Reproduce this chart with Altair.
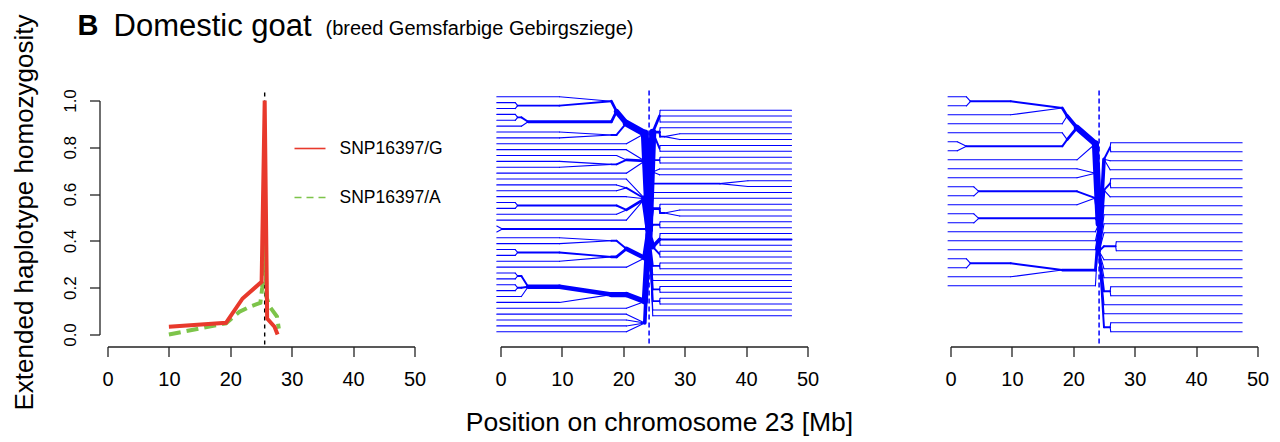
import altair as alt
import pandas as pd

# ---------------- data: panel 1 (EHH curves) ----------------
ehh_g_pos = [10.0, 19.3, 22.0, 25.1, 25.6, 26.0, 27.2, 27.7]
ehh_g_val = [0.033, 0.05, 0.154, 0.225, 1.0, 0.068, 0.033, 0.0]
ehh_a_pos = [10.0, 19.3, 21.5, 23.1, 24.9, 25.2, 25.6, 25.9, 26.4, 27.6, 27.9]
ehh_a_val = [0.0, 0.048, 0.097, 0.118, 0.135, 0.2, 0.45, 0.16, 0.12, 0.077, 0.025]
allele_labels = ["SNP16397/G", "SNP16397/A"]
ehh_core = 25.6
x_ticks = [0, 10, 20, 30, 40, 50]
y_ticks = [0.0, 0.2, 0.4, 0.6, 0.8, 1.0]

title_letter = "B"
title_main = "Domestic goat"
title_sub = "(breed Gemsfarbige Gebirgsziege)"
y_title = "Extended haplotype homozygosity"
x_title = "Position on chromosome 23 [Mb]"

# ---------------- data: bifurcation diagrams ----------------
# node = [split position (Mb), child, child, ...]; leaf = number of haplotypes
bif_core = 24.2

g_left_markers = [24.2, 23.5, 20.5, 18.9, 18.05, 9.6, 4.5, 3.4, 2.8, 2.4, 0.3, -0.6]
g_left_tree = [24.2,
    [23.5, [20.5, [18.9, [18.05, 1, [2.8, 1, 1]], [4.5, [2.8, 1, 1], 1]], [18.05, 1, 1]], 1],
    [23.5, 1, [20.5, 1, [18.05, 1, 1]], 1],
    [23.5, 1, [20.5, 1, 1], 1, [20.5, [2.8, 1, 1], 1], 1],
    [0.3, 1, 1],
    [23.5, [20.5, [18.05, 1, 1], [18.05, [2.8, 1, 1], 1]], 1],
    [23.5, [18.05, [4.5, [2.8, 1, 1], [2.8, 1, 1], 1], 1], 1],
    [23.5, 1, 1, 1, 1]]

g_right_markers = [24.2, 24.8, 25.9, 26.0, 26.7, 29.2, 35.7, 40.3, 47.4]
g_right_tree = [24.2,
    [24.8, [25.9, 1, 1, 1], [25.9, 1, [26.7, 1, 1]], [25.9, 1, 1]],
    [25.9, 1, 1],
    [24.8, 1, 1],
    [35.7, 1, 1],
    1, 1,
    [25.9, 1, [26.7, 1, 1]],
    [25.9, 1, 1],
    [24.8, [25.9, 1, 2, 1], [25.9, 1, 1]],
    [25.9, 1, 1],
    1, 1,
    [25.9, 1, 1],
    [25.9, 1, 1],
    1, 1]

a_left_markers = [24.2, 23.6, 20.6, 19.0, 18.2, 9.8, 4.6, 3.8, 3.26, 2.6, 1.1, -0.4]
a_left_tree = [24.2,
    [23.6, [20.6, [19.0, [18.2, [3.26, 1, 1], 1], 1], [19.0, 1, [2.6, 1, 1]]], 1],
    [23.6, 1, 1],
    [23.6, [4.6, 1, 1], 1],
    [4.6, 1, 1],
    1, 1, 1,
    [18.2, [3.26, 1, 1], 1],
    1]

a_right_markers = [24.2, 25.0, 26.0, 26.1, 26.9, 27.0, 47.5]
a_right_tree = [24.2,
    [25.0, [26.0, 1, 1], 1, 1],
    [25.0, [26.0, 1, 1], 1],
    1, 1, 1, 1,
    [26.9, 1, 1],
    1, 1, 1,
    [26.0, 1, 1],
    1, 1,
    [26.0, 1, 1]]

# layout of haplotype slots (first slot offset, in slot units)
G_LEFT_OFF, G_RIGHT_OFF = 0.0, 2.28
A_LEFT_OFF, A_RIGHT_OFF = 0.0, 5.11
G_YDOM = [0.63, 40.46]
A_YDOM = [0.41, 26.41]


def lw(n):
    return 1.1 + 0.85 * (n - 1)


def build(tree, markers, y0, outward):
    end = markers[-1]
    segs = []
    counter = [0]

    def layout(node):
        if isinstance(node, int):
            y = y0 + counter[0]
            counter[0] += 1
            return {"leaf": True, "n": node, "y": y}
        kids = [layout(c) for c in node[1:]]
        return {"leaf": False, "x": node[0], "kids": kids,
                "n": sum(k["n"] for k in kids),
                "y": sum(k["y"] for k in kids) / len(kids)}

    def nxt(x):
        if outward < 0:
            c = [m for m in markers if m < x - 1e-9]
            return max(c) if c else end
        c = [m for m in markers if m > x + 1e-9]
        return min(c) if c else end

    def draw(p):
        xn = nxt(p["x"])
        for k in p["kids"]:
            w = lw(k["n"])
            segs.append({"x": p["x"], "y": p["y"], "x2": xn, "y2": k["y"], "w": w})
            xe = end if k["leaf"] else k["x"]
            if abs(xe - xn) > 1e-9:
                segs.append({"x": xn, "y": k["y"], "x2": xe, "y2": k["y"], "w": w})
            if not k["leaf"]:
                draw(k)

    draw(layout(tree))
    return segs


FONT = "Liberation Sans"
W, H = 307, 234
AX = "#222222"

x_axis = alt.Axis(values=x_ticks, title=None, labelFontSize=20, tickSize=10, offset=12,
                  labelPadding=13, domainColor=AX, tickColor=AX, domainWidth=1.3, tickWidth=1.3,
                  labelColor="#000", grid=False, labelFlush=False)


def xenc(field, rng=None):
    sc = alt.Scale(domain=[0, 50], nice=False, zero=False)
    if rng is not None:
        sc = alt.Scale(domain=[0, 50], nice=False, zero=False, range=rng)
    return alt.X(field, scale=sc, axis=x_axis)


# ---------------- panel 1 ----------------
df_g = pd.DataFrame({"pos": ehh_g_pos, "val": ehh_g_val})
df_a = pd.DataFrame({"pos": ehh_a_pos, "val": ehh_a_val})
yscale1 = alt.Scale(domain=[0, 1], nice=False, zero=False)
y_axis1 = alt.Axis(values=y_ticks, format=".1f", title=None, labelFontSize=17, tickSize=10,
                   offset=8, labelAngle=270, labelAlign="center", labelBaseline="bottom",
                   labelPadding=10, domainColor=AX, tickColor=AX, domainWidth=1.3, tickWidth=1.3,
                   labelColor="#000", grid=False)

RED, GREEN = "#E8392C", "#7DC44A"

core1 = alt.Chart(pd.DataFrame({"c": [ehh_core]})).mark_rule(
    color="black", strokeDash=[4, 4], strokeWidth=1.4).encode(
    x=xenc("c:Q"), y=alt.value(-8), y2=alt.value(246))
green_line = alt.Chart(df_a).mark_line(color=GREEN, strokeWidth=4, strokeDash=[12, 6]).encode(
    x=xenc("pos:Q"), y=alt.Y("val:Q", scale=yscale1, axis=y_axis1))
red_line = alt.Chart(df_g).mark_line(color=RED, strokeWidth=4).encode(
    x=xenc("pos:Q"), y=alt.Y("val:Q", scale=yscale1, axis=y_axis1))

leg_df = pd.DataFrame({"lab": allele_labels, "row": [0, 1]})
leg_red = alt.Chart(leg_df.iloc[[0]]).mark_rule(color=RED, strokeWidth=1.6).encode(
    x=alt.value(187), x2=alt.value(218), y=alt.value(48))
leg_green = alt.Chart(leg_df.iloc[[1]]).mark_rule(color=GREEN, strokeWidth=1.6, strokeDash=[7, 5]).encode(
    x=alt.value(187), x2=alt.value(219), y=alt.value(97))
leg_text_g = alt.Chart(leg_df.iloc[[0]]).mark_text(align="left", baseline="middle", fontSize=17.5,
                                                    font=FONT, color="#000").encode(
    x=alt.value(232), y=alt.value(48), text="lab:N")
leg_text_a = alt.Chart(leg_df.iloc[[1]]).mark_text(align="left", baseline="middle", fontSize=17.5,
                                                    font=FONT, color="#000").encode(
    x=alt.value(232), y=alt.value(97), text="lab:N")

t_df = pd.DataFrame({"a": [title_letter], "b": [title_main], "c": [title_sub], "y": [y_title]})
t_letter = alt.Chart(t_df).mark_text(align="left", baseline="alphabetic", fontSize=29,
                                     fontWeight="bold", font=FONT, color="#000").encode(
    x=alt.value(-30), y=alt.value(-66), text="a:N")
t_main = alt.Chart(t_df).mark_text(align="left", baseline="alphabetic", fontSize=31,
                                   font=FONT, color="#000").encode(
    x=alt.value(6), y=alt.value(-64.5), text="b:N")
t_sub = alt.Chart(t_df).mark_text(align="left", baseline="alphabetic", fontSize=20,
                                  font=FONT, color="#000").encode(
    x=alt.value(218), y=alt.value(-66), text="c:N")
t_y = alt.Chart(t_df).mark_text(align="center", baseline="middle", fontSize=26, angle=270,
                                font=FONT, color="#000").encode(
    x=alt.value(-83), y=alt.value(112), text="y:N")

p1 = alt.layer(core1, green_line, red_line, leg_red, leg_green, leg_text_g, leg_text_a,
               t_letter, t_main, t_sub, t_y).properties(width=W, height=H)


# ---------------- panels 2 and 3 ----------------
def bif_panel(ltree, lmark, loff, rtree, rmark, roff, ydom, width, rng, extra=None):
    segs = build(ltree, lmark, loff, -1) + build(rtree, rmark, roff, 1)
    df = pd.DataFrame(segs)
    ysc = alt.Scale(domain=ydom, reverse=True, nice=False, zero=False)
    seg = alt.Chart(df).mark_rule(color="#0000FF", strokeCap="round").encode(
        x=xenc("x:Q", rng), x2="x2:Q",
        y=alt.Y("y:Q", scale=ysc, axis=None), y2="y2:Q",
        strokeWidth=alt.StrokeWidth("w:Q", scale=None))
    core = alt.Chart(pd.DataFrame({"c": [bif_core]})).mark_rule(
        color="#0000FF", strokeDash=[5, 3], strokeWidth=1.5).encode(
        x=xenc("c:Q", rng), y=alt.value(-10), y2=alt.value(245))
    layers = [seg, core]
    if extra is not None:
        layers.append(extra)
    return alt.layer(*layers).properties(width=width, height=H)


xt = alt.Chart(pd.DataFrame({"t": [x_title]})).mark_text(
    align="center", baseline="alphabetic", fontSize=26.5, font=FONT, color="#000").encode(
    x=alt.value(159), y=alt.value(330), text="t:N")

p2 = bif_panel(g_left_tree, g_left_markers, G_LEFT_OFF, g_right_tree, g_right_markers, G_RIGHT_OFF,
               G_YDOM, W + 57, [0, W], xt)
p3 = bif_panel(a_left_tree, a_left_markers, A_LEFT_OFF, a_right_tree, a_right_markers, A_RIGHT_OFF,
               A_YDOM, W, None)

chart = alt.hconcat(p1, p2, p3, spacing=86, bounds="flush").configure(
    font=FONT).configure_view(stroke=None).properties(
    padding={"left": 2.5, "top": 2.5, "right": 0, "bottom": 0})

chart.save("out.html", embed_options={"renderer": "svg", "actions": False})
